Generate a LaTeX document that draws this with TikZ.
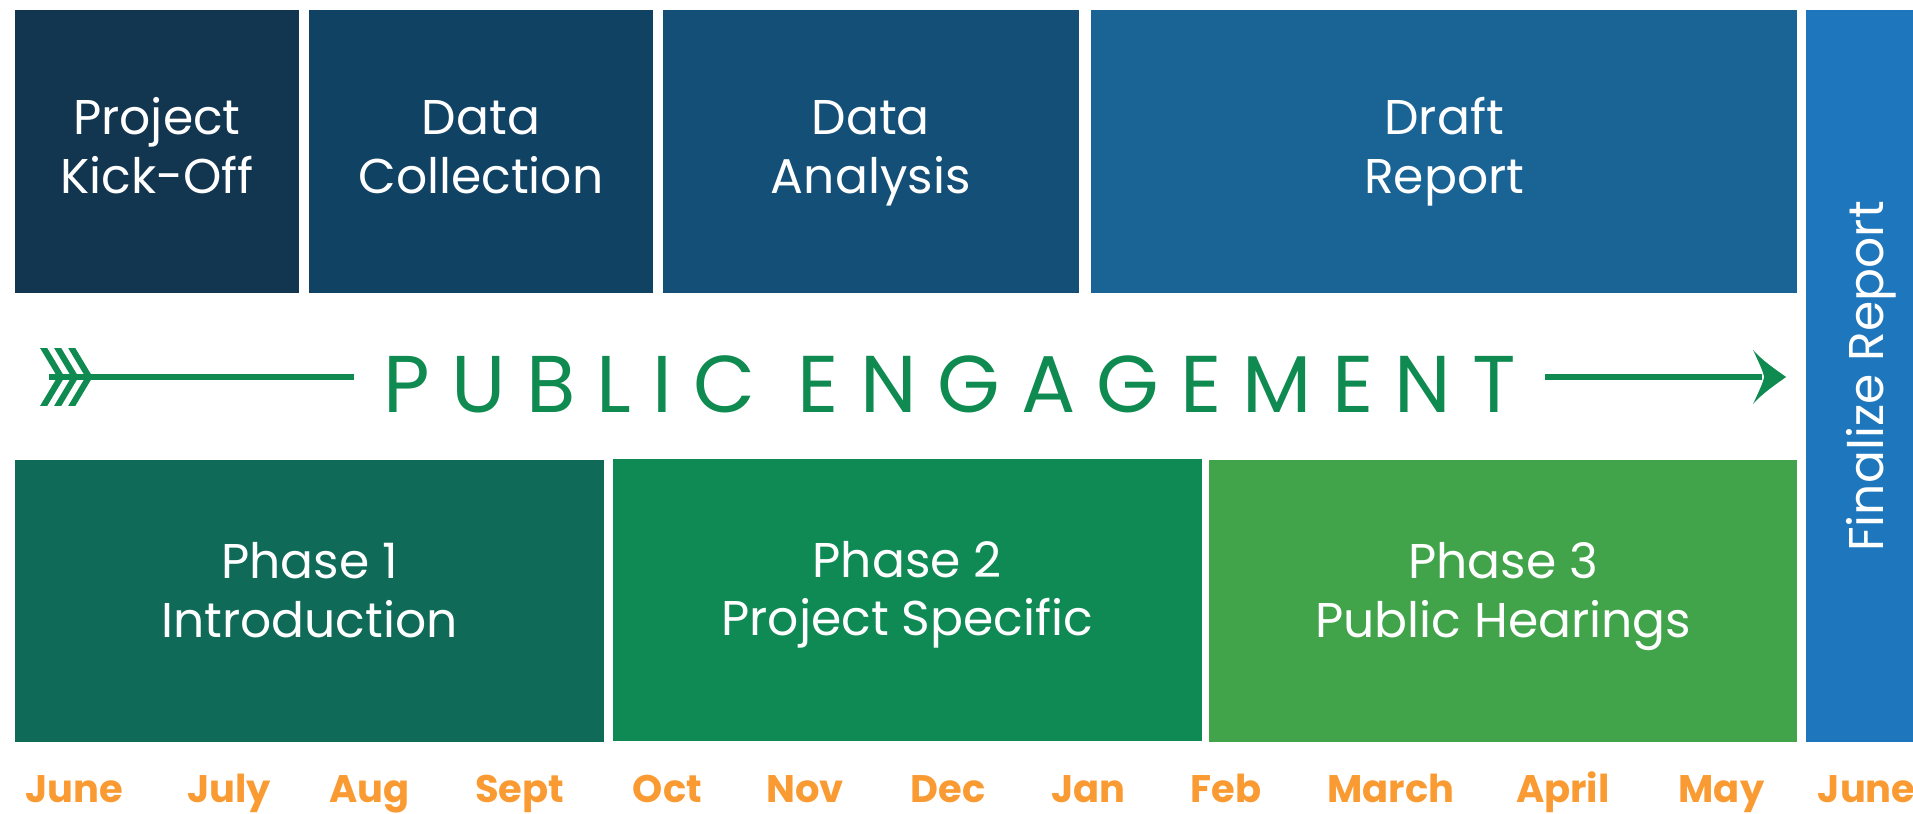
\documentclass[tikz,border=0pt]{standalone}
\usepackage{fontspec}
\setmainfont{Poppins}
\usetikzlibrary{arrows.meta}
\definecolor{cKick}{HTML}{123550}
\definecolor{cColl}{HTML}{104263}
\definecolor{cAnal}{HTML}{134F77}
\definecolor{cDraft}{HTML}{196495}
\definecolor{cFinal}{HTML}{1E77BC}
\definecolor{cPhA}{HTML}{0F6A58}
\definecolor{cPhB}{HTML}{0F8A54}
\definecolor{cPhC}{HTML}{41A44A}
\definecolor{cGreen}{HTML}{0F8A50}
\definecolor{cOrange}{HTML}{F99B32}
\newcommand\twolines[3]{\raisebox{0pt}[#1][0pt]{\begin{tabular}[b]{@{}c@{}}#2\\#3\end{tabular}}}
\begin{document}
\begin{tikzpicture}[x=1pt,y=-1pt,
  box/.style={rectangle, inner sep=0pt, anchor=north west, text=white, align=center,
    font=\fontsize{40}{48}\selectfont},
  month/.style={anchor=base, text=cOrange, font=\fontsize{31.5}{32}\selectfont\bfseries},
  shaft/.style={draw=cGreen, line width=5pt},
  fletch/.style={draw=cGreen, line width=5pt, miter limit=20}
]
\useasboundingbox (0,0) rectangle (1568,667);
% top row
\node[box, fill=cKick,  minimum width=233pt, minimum height=232pt] (kick) at (12,8) {\twolines{68pt}{Project}{Kick-Off}};
\node[box, fill=cColl,  minimum width=282pt, minimum height=232pt] (coll) at (253,8) {\twolines{68pt}{Data}{Collection}};
\node[box, fill=cAnal,  minimum width=341pt, minimum height=232pt] (anal) at (543,8) {\twolines{68pt}{Data}{Analysis}};
\node[box, fill=cDraft, minimum width=579pt, minimum height=232pt] (draft) at (894,8) {\twolines{68pt}{Draft}{Report}};
% finalize
\node[box, fill=cFinal, minimum width=100pt, minimum height=600pt] (final) at (1480,8) {};
\node[text=white, rotate=90, font=\fontsize{40}{48}\selectfont, inner sep=0pt, anchor=base] (finaltext) at (1544,308.5) {Finalize Report};
% bottom row
\node[box, fill=cPhA, minimum width=483pt, minimum height=231pt] (ph1) at (12,377) {\twolines{59pt}{Phase 1}{Introduction}};
\node[box, fill=cPhB, minimum width=483pt, minimum height=231pt] (ph2) at (502,376) {\twolines{59pt}{Phase 2}{Project Specific}};
\node[box, fill=cPhC, minimum width=482pt, minimum height=231pt] (ph3) at (991,377) {\twolines{59pt}{Phase 3}{Public Hearings}};
% public engagement
\node[text=cGreen, inner xsep=24pt, inner ysep=0pt, anchor=base,
  font=\fontsize{66}{66}\selectfont\addfontfeatures{LetterSpace=26}] (pe) at (778.5,338) {PUBLIC ENGAGEMENT};
\coordinate (tail) at (40,309);
\coordinate (tip) at (1464,309);
\draw[shaft] (tail) -- (tail -| pe.west);
\draw[shaft] (tip -| pe.east) -- ([xshift=-20pt]tip);
\fill[cGreen] (tip) .. controls (1454,302) and (1444,295) .. (1437,287)
  .. controls (1442,298) and (1445,304) .. (1446,309)
  .. controls (1445,314) and (1442,320) .. (1437,331)
  .. controls (1444,323) and (1454,316) .. (tip);
\begin{scope}
  \clip (20,286) rectangle (100,332);
  \foreach \ax in {50,61.5,73}{
    \draw[fletch] (\ax-15,284) -- (\ax,309) -- (\ax-15,334);
  }
\end{scope}
% months
\node[month] (m1) at (61,658) {June};
\node[month] (m2) at (188,658) {July};
\node[month] (m3) at (303,658) {Aug};
\node[month] (m4) at (426,658) {Sept};
\node[month] (m5) at (547,658) {Oct};
\node[month] (m6) at (660,658) {Nov};
\node[month] (m7) at (777,658) {Dec};
\node[month] (m8) at (892,658) {Jan};
\node[month] (m9) at (1005,658) {Feb};
\node[month] (m10) at (1140,658) {March};
\node[month] (m11) at (1281,658) {April};
\node[month] (m12) at (1411,658) {May};
\node[month] (m13) at (1530,658) {June};
\end{tikzpicture}
\end{document}
